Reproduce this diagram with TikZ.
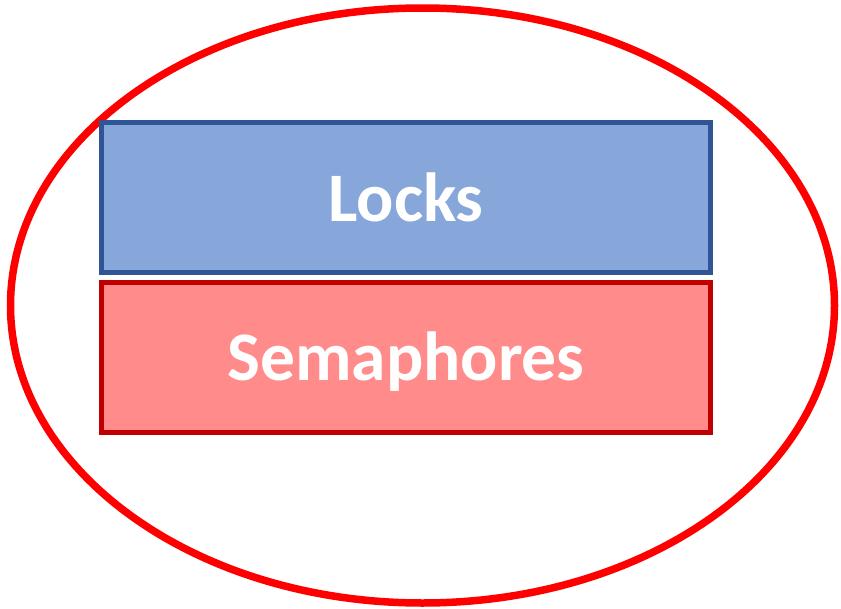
\documentclass[tikz,border=0pt]{standalone}
\usepackage{fontspec}
\setmainfont{Carlito}
\definecolor{lockfill}{HTML}{87A6DA}
\definecolor{lockline}{HTML}{2F5597}
\definecolor{semfill}{HTML}{FF8B8B}
\definecolor{semline}{HTML}{C00000}
\definecolor{ringred}{HTML}{FF0000}
\begin{document}
\begin{tikzpicture}[x=1pt,y=-1pt,
  box/.style={line width=5pt},
  label/.style={text=white,font=\fontsize{69.5}{80}\selectfont\bfseries,anchor=base,inner sep=0pt}]
\useasboundingbox (0,0) rectangle (841,608);
\draw[ringred,line width=7.5pt] (422.5,305.5) ellipse [x radius=412, y radius=297.5];
\draw[box,fill=lockfill,draw=lockline] (101.5,122.5) rectangle (710.5,272.5);
\draw[box,fill=semfill,draw=semline] (101.5,282.5) rectangle (710.5,432.5);
\node[label] (locks) at (406,221) {Locks};
\node[label] (sem) at (406,380) {Semaphores};
\end{tikzpicture}
\end{document}
